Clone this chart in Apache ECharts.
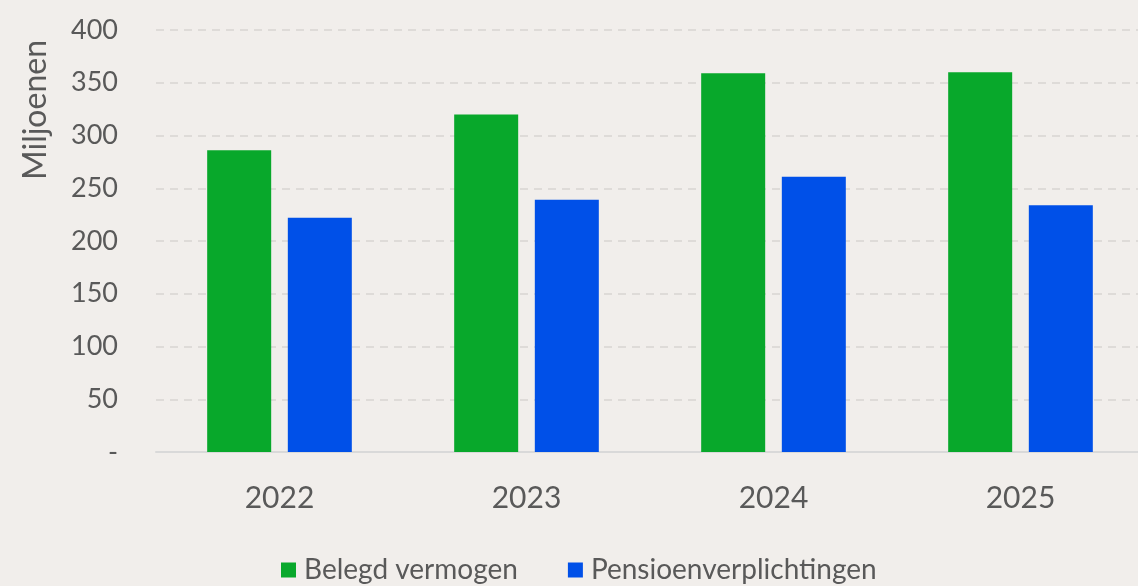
<!DOCTYPE html>
<html>
<head>
<meta charset="utf-8">
<script src="https://cdn.jsdelivr.net/npm/echarts@6/dist/echarts.min.js"></script>
<style>
  html, body { margin: 0; padding: 0; background: #f1eeeb; }
  #chart { width: 1138px; height: 586px; }
</style>
</head>
<body>
<div id="chart"></div>
<script>
// data
var years = ['2022', '2023', '2024', '2025'];
var belegdVermogen = [286, 320, 359, 360];
var pensioenVerplichtingen = [222, 239, 261, 234];
var seriesNames = ['Belegd vermogen', 'Pensioenverplichtingen'];

var FONT = 'Lato, "Open Sans", sans-serif';
var TEXT_COLOR = '#595959';

var myChart = echarts.init(document.getElementById('chart'));

var option = {
    backgroundColor: '#f1eeeb',
    animation: false,
    textStyle: { fontFamily: FONT },
    grid: {
        left: 156,
        top: 30,
        width: 988,
        height: 422,
        outerBoundsMode: 'none'
    },
    legend: {
        data: seriesNames,
        top: 551,
        left: 276,
        itemWidth: 15,
        itemHeight: 15,
        itemGap: 50,
        icon: 'rect',
        textStyle: { fontSize: 28, color: TEXT_COLOR, fontFamily: FONT, padding: [0, 0, 0, 3] }
    },
    graphic: [{
        type: 'text',
        x: 36,
        y: 110,
        rotation: Math.PI / 2,
        style: {
            text: 'Miljoenen',
            fill: TEXT_COLOR,
            font: '32px ' + FONT,
            textAlign: 'center',
            textVerticalAlign: 'middle'
        }
    }],
    xAxis: {
        type: 'category',
        data: years,
        axisTick: { show: false },
        axisLine: { lineStyle: { color: '#d9d9d9', width: 2 } },
        axisLabel: { fontSize: 30, color: TEXT_COLOR, margin: 31, fontFamily: FONT }
    },
    yAxis: {
        type: 'value',
        min: 0,
        max: 400,
        interval: 50,
        axisLine: { show: false },
        axisTick: { show: false },
        axisLabel: {
            fontSize: 27,
            color: TEXT_COLOR,
            margin: 38,
            fontFamily: FONT,
            formatter: function (v) { return v === 0 ? '-' : v; }
        },
        splitLine: {
            lineStyle: { color: '#d8d5d2', type: [8, 6], width: 1.5 }
        }
    },
    series: [{
        name: seriesNames[0],
        type: 'bar',
        data: belegdVermogen,
        barWidth: 64,
        barGap: '26%',
        itemStyle: { color: '#08a82b' }
    }, {
        name: seriesNames[1],
        type: 'bar',
        data: pensioenVerplichtingen,
        barWidth: 64,
        barGap: '26%',
        itemStyle: { color: '#0050e8' }
    }]
};

myChart.setOption(option);
</script>
</body>
</html>
